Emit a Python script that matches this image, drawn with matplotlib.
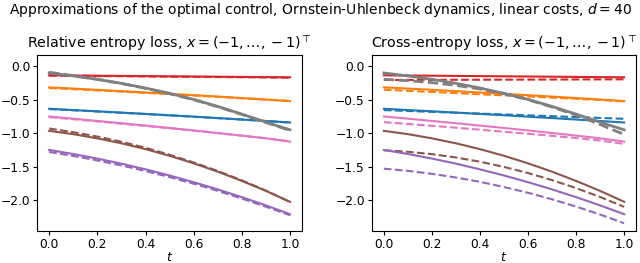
import numpy as np
import matplotlib
matplotlib.use("Agg")
import matplotlib.pyplot as plt

# time grid and curves (log-ish control approximations)
t = [0.0, 0.1, 0.2, 0.3, 0.4, 0.5, 0.6, 0.7, 0.8, 0.9, 1.0]

# reference (solid) curves, identical in both panels
ref_red = [-0.135, -0.138, -0.141, -0.144, -0.147, -0.150, -0.153, -0.156, -0.159, -0.162, -0.165]
ref_orange = [-0.315, -0.333, -0.352, -0.372, -0.392, -0.412, -0.432, -0.453, -0.475, -0.497, -0.52]
ref_blue = [-0.635, -0.654, -0.673, -0.692, -0.712, -0.732, -0.753, -0.774, -0.796, -0.818, -0.84]
ref_pink = [-0.75, -0.783, -0.817, -0.851, -0.886, -0.922, -0.959, -0.997, -1.036, -1.076, -1.125]
ref_brown = [-0.965, -1.014, -1.077, -1.151, -1.238, -1.338, -1.45, -1.575, -1.713, -1.862, -2.025]
ref_purple = [-1.25, -1.311, -1.379, -1.455, -1.54, -1.632, -1.732, -1.84, -1.955, -2.079, -2.21]
ref_gray = [-0.10, -0.145, -0.195, -0.255, -0.325, -0.405, -0.495, -0.6, -0.715, -0.835, -0.95]

# approximations, relative entropy loss (left)
re_red = [-0.14, -0.143, -0.146, -0.149, -0.152, -0.155, -0.158, -0.161, -0.164, -0.167, -0.17]
re_orange = [-0.325, -0.342, -0.36, -0.378, -0.397, -0.416, -0.436, -0.456, -0.477, -0.498, -0.52]
re_blue = [-0.64, -0.658, -0.676, -0.695, -0.714, -0.734, -0.754, -0.775, -0.796, -0.818, -0.84]
re_pink = [-0.76, -0.791, -0.824, -0.857, -0.891, -0.926, -0.962, -0.999, -1.037, -1.077, -1.125]
re_brown = [-0.93, -0.985, -1.05, -1.128, -1.218, -1.322, -1.437, -1.565, -1.705, -1.858, -2.03]
re_purple = [-1.28, -1.34, -1.407, -1.482, -1.565, -1.656, -1.755, -1.862, -1.976, -2.099, -2.225]
re_gray = [-0.09, -0.14, -0.195, -0.258, -0.33, -0.41, -0.5, -0.605, -0.72, -0.84, -0.96]

# approximations, cross-entropy loss (right)
ce_red = [-0.205, -0.204, -0.203, -0.202, -0.201, -0.2, -0.199, -0.198, -0.197, -0.196, -0.195]
ce_orange = [-0.35, -0.367, -0.384, -0.401, -0.418, -0.435, -0.452, -0.469, -0.486, -0.503, -0.525]
ce_blue = [-0.655, -0.668, -0.681, -0.694, -0.707, -0.72, -0.733, -0.746, -0.759, -0.772, -0.785]
ce_pink = [-0.835, -0.862, -0.89, -0.918, -0.948, -0.978, -1.008, -1.04, -1.072, -1.11, -1.16]
ce_brown = [-1.255, -1.277, -1.313, -1.363, -1.426, -1.504, -1.595, -1.701, -1.82, -1.953, -2.1]
ce_purple = [-1.53, -1.563, -1.607, -1.662, -1.727, -1.804, -1.89, -1.988, -2.096, -2.215, -2.345]
ce_gray = [-0.195, -0.215, -0.245, -0.285, -0.34, -0.41, -0.5, -0.61, -0.73, -0.87, -1.02]

colors = ["C3", "C1", "C0", "C6", "C5", "C4", "C7"]
refs = [ref_red, ref_orange, ref_blue, ref_pink, ref_brown, ref_purple, ref_gray]
approx_re = [re_red, re_orange, re_blue, re_pink, re_brown, re_purple, re_gray]
approx_ce = [ce_red, ce_orange, ce_blue, ce_pink, ce_brown, ce_purple, ce_gray]

fig = plt.figure(figsize=(6.4, 2.63), dpi=100)
ax1 = fig.add_axes([0.058, 0.122, 0.414, 0.668])
ax2 = fig.add_axes([0.581, 0.122, 0.413, 0.668])

titles = [
    r"Relative entropy loss, $x = (-1, \ldots, {}-1)^\top$",
    r"Cross-entropy loss, $x = (-1, \ldots, {}-1)^\top$",
]

for ax, approx, title in zip([ax1, ax2], [approx_re, approx_ce], titles):
    for c, y_ref, y_app in zip(colors, refs, approx):
        lw = 2.0 if c == "C7" else 1.5
        ax.plot(t, y_ref, color=c, lw=lw)
        ax.plot(t, y_app, color=c, lw=lw, ls="--")
    ax.set_ylim(-2.46, 0.165)
    ax.set_xlabel("$t$", fontsize=9, labelpad=0)
    ax.set_title(title, fontsize=10.3, pad=5)
    ax.tick_params(labelsize=8.8, length=3, pad=2)

fig.suptitle(
    "Approximations of the optimal control, Ornstein-Uhlenbeck dynamics, linear costs, $d = 40$",
    fontsize=10, y=0.995,
)

fig.savefig("out.png", dpi=100)
